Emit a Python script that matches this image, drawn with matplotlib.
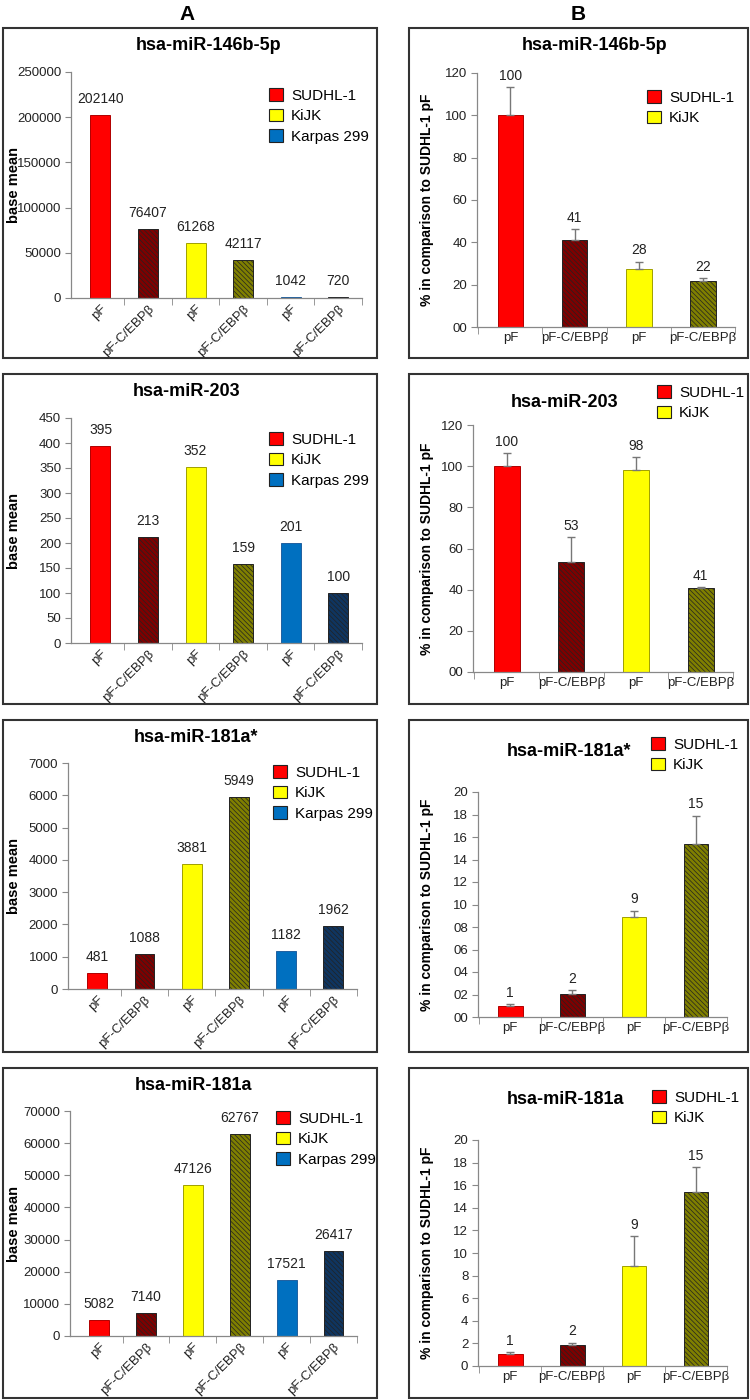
import matplotlib
matplotlib.use("Agg")
import matplotlib.pyplot as plt
from matplotlib.patches import Rectangle, Patch
from matplotlib.ticker import FixedLocator, FuncFormatter

plt.rcParams['font.family'] = ['Liberation Sans', 'DejaVu Sans']
plt.rcParams['hatch.linewidth'] = 0.5

# datos
mirnas = ["hsa-miR-146b-5p", "hsa-miR-203", "hsa-miR-181a*", "hsa-miR-181a"]
cell_lines = ["SUDHL-1", "KiJK", "Karpas 299"]
conditions = ["pF", "pF-C/EBPβ"]

base_146b = [202140, 76407, 61268, 42117, 1042, 720]
base_203 = [395, 213, 352, 159, 201, 100]
base_181a_star = [481, 1088, 3881, 5949, 1182, 1962]
base_181a = [5082, 7140, 47126, 62767, 17521, 26417]
base_ymax = [250000, 450, 7000, 70000]
base_ystep = [50000, 50, 1000, 10000]

pct_146b = [100, 40.9, 27.6, 21.7]
err_146b = [13.5, 5.4, 3.3, 1.5]
pct_203 = [100, 53.4, 98.1, 41.0]
err_203 = [6.5, 12.2, 6.5, 0.4]
pct_181a_star = [1.0, 2.07, 8.86, 15.4]
err_181a_star = [0.18, 0.35, 0.6, 2.5]
pct_181a = [1.03, 1.89, 8.86, 15.36]
err_181a = [0.21, 0.18, 2.64, 2.24]
pct_ymax = [120, 120, 20, 20]
pct_ystep = [20, 20, 2, 2]
pct_fmt = ["%02d", "%02d", "%02d", "%d"]

# colores: pF liso, pF-C/EBPβ oscuro con trama
colores = ["#FF0000", "#7F0000", "#FFFF00", "#7F7F00", "#0070C0", "#0F3560"]
tramas = [None, "\\\\\\\\\\\\\\", None, "\\\\\\\\\\\\\\", None, "\\\\\\\\\\\\\\"]
bordes = ["#B00000", "#222222", "#A0A000", "#222222", "#2060A0", "#222222"]

W, H = 750, 1400
fig = plt.figure(figsize=(7.5, 14), dpi=100)

def px_rect(x0, y0, x1, y1):
    return [x0 / W, 1 - y1 / H, (x1 - x0) / W, (y1 - y0) / H]

# cajas de los paneles
filas = [(28, 358), (374, 704), (720, 1052), (1068, 1398)]
for y0, y1 in filas:
    for x0, x1 in [(3, 377), (409, 748)]:
        fig.patches.append(Rectangle((x0 / W, 1 - y1 / H), (x1 - x0) / W, (y1 - y0) / H,
                                     transform=fig.transFigure, fill=False,
                                     lw=1.5, ec="#333333"))

fig.text(187 / W, 1 - 14 / H, "A", ha="center", va="center", fontsize=15, fontweight="bold")
fig.text(578 / W, 1 - 14 / H, "B", ha="center", va="center", fontsize=15, fontweight="bold")

# posiciones de ejes, titulos y leyendas (pixeles)
ejes_A = [(71, 72, 362, 298), (71, 418, 362, 643), (68, 763, 357, 989), (70, 1111, 357, 1336)]
ejes_B = [(477, 73, 735, 327), (473, 425, 733, 672), (478, 792, 727, 1017), (478, 1140, 727, 1366)]
titulos_A = [(209, 46), (187, 392), (196, 737), (194, 1085)]
titulos_B = [(595, 46), (565, 403), (569, 752), (565, 1100)]
leyendas_A = [(269, 88), (269, 432), (273, 765), (276, 1111)]
leyendas_B = [(647, 90), (657, 385), (651, 737), (652, 1090)]

base_series = [base_146b, base_203, base_181a_star, base_181a]
pct_series = [pct_146b, pct_203, pct_181a_star, pct_181a]
err_series = [err_146b, err_203, err_181a_star, err_181a]

def estilo_ejes(ax, n):
    for s in ["top", "right"]:
        ax.spines[s].set_visible(False)
    for s in ["left", "bottom"]:
        ax.spines[s].set_color("#888888")
        ax.spines[s].set_linewidth(0.9)
    ax.tick_params(axis="y", direction="out", length=4, color="#888888", labelsize=9.5,
                   labelcolor="#222222", pad=3)
    ax.tick_params(axis="x", which="major", length=0, labelsize=9.5, labelcolor="#222222")
    ax.xaxis.set_minor_locator(FixedLocator([i + 0.5 for i in range(n)]))
    ax.tick_params(axis="x", which="minor", direction="out", length=5, color="#888888")

def leyenda(ax, n, pos):
    handles = [Patch(facecolor=colores[2 * k], edgecolor="#222222", lw=0.8) for k in range(n)]
    ax.legend(handles, cell_lines[:n], loc="upper left",
              bbox_to_anchor=(pos[0] / W, 1 - pos[1] / H), bbox_transform=fig.transFigure,
              frameon=False, fontsize=11, handlelength=0.9, handleheight=0.9,
              handletextpad=0.55, labelspacing=0.4, borderpad=0, borderaxespad=0)

# Columna A: base mean
for r in range(4):
    ax = fig.add_axes(px_rect(*ejes_A[r]))
    vals = base_series[r]
    xs = list(range(len(vals)))
    for i, v in enumerate(vals):
        ax.bar(i, v, width=0.42, color=colores[i], edgecolor=bordes[i], lw=0.7, hatch=tramas[i])
        ax.annotate(str(v), (i, v), xytext=(0, 11.5), textcoords="offset points",
                    ha="center", va="center", fontsize=10, color="#222222")
    ax.set_xlim(-0.62, 5.5)
    ax.set_ylim(0, base_ymax[r])
    ax.set_yticks(range(0, base_ymax[r] + 1, base_ystep[r]))
    ax.set_xticks(xs)
    ax.set_xticklabels(conditions * 3, rotation=45, ha="right", rotation_mode="anchor")
    estilo_ejes(ax, 6)
    ax.set_ylabel("base mean", fontsize=10.5, fontweight="bold")
    x0, y0, x1, y1 = ejes_A[r]
    ax.yaxis.set_label_coords(14 / W, 1 - (y0 + y1) / 2 / H, transform=fig.transFigure)
    ax.yaxis.label.set_verticalalignment("center")
    fig.text(titulos_A[r][0] / W, 1 - titulos_A[r][1] / H, mirnas[r], ha="center", va="center",
             fontsize=13, fontweight="bold")
    leyenda(ax, 3, leyendas_A[r])

# Columna B: % respecto a SUDHL-1 pF
for r in range(4):
    ax = fig.add_axes(px_rect(*ejes_B[r]))
    vals = pct_series[r]
    errs = err_series[r]
    for i, v in enumerate(vals):
        ax.bar(i, v, width=0.4, color=colores[i], edgecolor=bordes[i], lw=0.7, hatch=tramas[i])
        ax.errorbar(i, v, yerr=[[0], [errs[i]]], fmt="none", ecolor="#777777",
                    elinewidth=1, capsize=3, capthick=1)
        ax.annotate(str(round(v)), (i, v + errs[i]), xytext=(0, 3), textcoords="offset points",
                    ha="center", va="bottom", fontsize=10, color="#222222")
    ax.set_xlim(-0.52, 3.5)
    ax.set_ylim(0, pct_ymax[r])
    ax.set_yticks(range(0, pct_ymax[r] + 1, pct_ystep[r]))
    ax.yaxis.set_major_formatter(FuncFormatter(lambda t, p, f=pct_fmt[r]: f % t))
    ax.set_xticks(range(4))
    ax.set_xticklabels(conditions * 2)
    estilo_ejes(ax, 4)
    ax.xaxis.set_minor_locator(FixedLocator([i + 0.5 for i in range(-1, 4)]))
    ax.set_ylabel("% in comparison to SUDHL-1 pF", fontsize=10, fontweight="bold")
    x0, y0, x1, y1 = ejes_B[r]
    ax.yaxis.set_label_coords(427 / W, 1 - (y0 + y1) / 2 / H, transform=fig.transFigure)
    ax.yaxis.label.set_verticalalignment("center")
    fig.text(titulos_B[r][0] / W, 1 - titulos_B[r][1] / H, mirnas[r], ha="center", va="center",
             fontsize=13, fontweight="bold")
    leyenda(ax, 2, leyendas_B[r])

fig.savefig("out.png", dpi=100)
